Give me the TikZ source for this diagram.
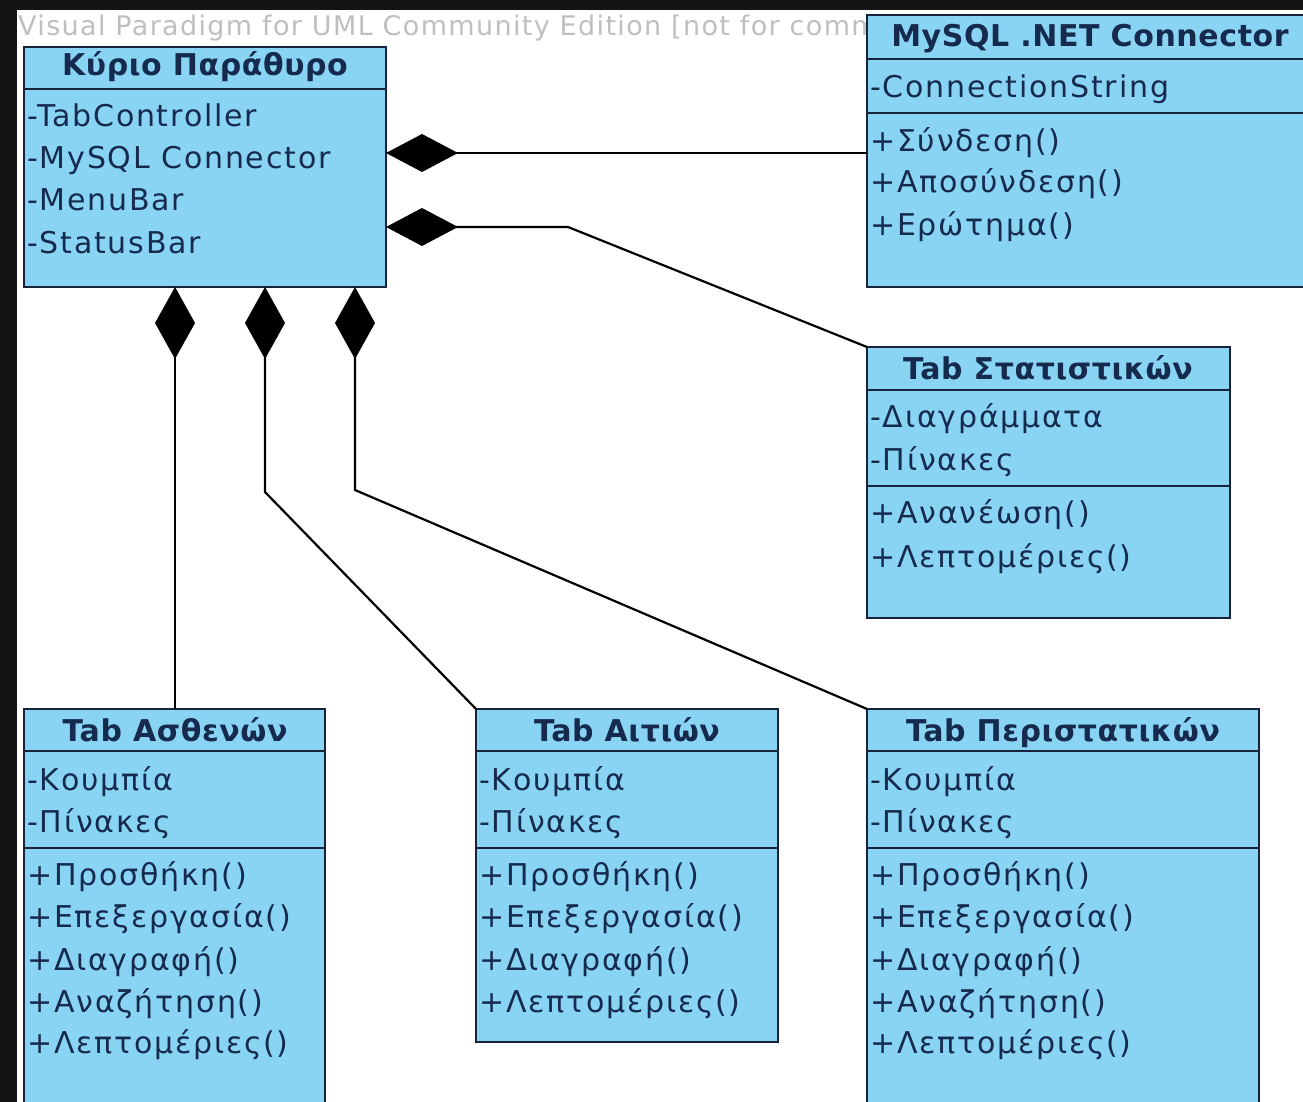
\documentclass[tikz,border=0pt]{standalone}
\usepackage{fontspec}
\setmainfont{DejaVu Sans}
\newfontfamily\memfont[LetterSpace=6]{DejaVu Sans}
\newfontfamily\ttlfont[LetterSpace=2]{DejaVu Sans Bold}
\newfontfamily\wmfont[LetterSpace=5]{DejaVu Sans}
\usetikzlibrary{arrows.meta}
\definecolor{cfill}{RGB}{137,212,243}
\definecolor{ctext}{RGB}{22,42,78}
\definecolor{cline}{RGB}{24,34,60}
\begin{document}
\begin{tikzpicture}[x=1pt,y=-1pt,
 cls/.style={draw=cline, line width=2pt, fill=cfill, anchor=north west, inner sep=0pt, outer sep=0pt},
 ttl/.style={inner sep=0pt, anchor=base, text=ctext, font=\fontsize{30}{30}\ttlfont},
 mem/.style={inner sep=0pt, anchor=base west, text=ctext, font=\fontsize{30}{30}\memfont},
 sep/.style={draw=cline, line width=2pt},
 comp/.style={draw=black, line width=2.2pt, -{Diamond[length=72pt,width=38pt]}},
 compv/.style={draw=black, line width=2.2pt, -{Diamond[length=72pt,width=40pt]}}]
\useasboundingbox (0,0) rectangle (1303,1102);
\clip (0,0) rectangle (1303,1102);
\fill[black!92] (0,0) rectangle (1303,1102);
\fill[white] (17,10) rectangle (1303,1102);

% watermark (partly covered by the MySQL box)
\node[anchor=base west, inner sep=0pt, text=black!45, opacity=0.55, font=\fontsize{27}{27}\wmfont] (wm) at (18,36) {Visual Paradigm for UML Community Edition [not for commercial use]};

% main window
\node[cls, minimum width=362pt, minimum height=240pt] (main) at (24,47) {};
\draw[sep] (main.west |- 0,89) -- (main.east |- 0,89);
\node[ttl] (mainT) at (205,76) {Κύριο Παράθυρο};
\node[mem] (mainA1) at (27,127) {-TabController};
\node[mem] (mainA2) at (27,169) {-MySQL Connector};
\node[mem] (mainA3) at (27,211) {-MenuBar};
\node[mem] (mainA4) at (27,253) {-StatusBar};

% MySQL .NET Connector
\node[cls, minimum width=446pt, minimum height=272pt] (mysql) at (867,15) {};
\draw[sep] (mysql.west |- 0,59) -- (mysql.east |- 0,59);
\draw[sep] (mysql.west |- 0,113) -- (mysql.east |- 0,113);
\node[ttl] (mysqlT) at (1090,47) {MySQL .NET Connector};
\node[mem] (mysqlA1) at (870,98) {-ConnectionString};
\node[mem] (mysqlO1) at (870,152) {+Σύνδεση()};
\node[mem] (mysqlO2) at (870,193) {+Αποσύνδεση()};
\node[mem] (mysqlO3) at (870,235) {+Ερώτημα()};

% Tab Statistikon
\node[cls, minimum width=363pt, minimum height=271pt] (stats) at (867,347) {};
\draw[sep] (stats.west |- 0,390) -- (stats.east |- 0,390);
\draw[sep] (stats.west |- 0,486) -- (stats.east |- 0,486);
\node[ttl] (statsT) at (1048,379) {Tab Στατιστικών};
\node[mem] (statsA1) at (870,427) {-Διαγράμματα};
\node[mem] (statsA2) at (870,470) {-Πίνακες};
\node[mem] (statsO1) at (870,523) {+Ανανέωση()};
\node[mem] (statsO2) at (870,567) {+Λεπτομέριες()};

% Tab Asthenon
\node[cls, minimum width=301pt, minimum height=420pt] (asth) at (24,709) {};
\draw[sep] (asth.west |- 0,751) -- (asth.east |- 0,751);
\draw[sep] (asth.west |- 0,848) -- (asth.east |- 0,848);
\node[ttl] (asthT) at (175,741) {Tab Ασθενών};
\node[mem] (asthA1) at (27,790) {-Κουμπία};
\node[mem] (asthA2) at (27,832) {-Πίνακες};
\node[mem] (asthO1) at (27,885) {+Προσθήκη()};
\node[mem] (asthO2) at (27,927) {+Επεξεργασία()};
\node[mem] (asthO3) at (27,970) {+Διαγραφή()};
\node[mem] (asthO4) at (27,1012) {+Αναζήτηση()};
\node[mem] (asthO5) at (27,1053) {+Λεπτομέριες()};

% Tab Aition
\node[cls, minimum width=302pt, minimum height=333pt] (aitia) at (476,709) {};
\draw[sep] (aitia.west |- 0,751) -- (aitia.east |- 0,751);
\draw[sep] (aitia.west |- 0,848) -- (aitia.east |- 0,848);
\node[ttl] (aitiaT) at (627,741) {Tab Αιτιών};
\node[mem] (aitiaA1) at (479,790) {-Κουμπία};
\node[mem] (aitiaA2) at (479,832) {-Πίνακες};
\node[mem] (aitiaO1) at (479,885) {+Προσθήκη()};
\node[mem] (aitiaO2) at (479,927) {+Επεξεργασία()};
\node[mem] (aitiaO3) at (479,970) {+Διαγραφή()};
\node[mem] (aitiaO4) at (479,1012) {+Λεπτομέριες()};

% Tab Peristatikon
\node[cls, minimum width=392pt, minimum height=420pt] (perist) at (867,709) {};
\draw[sep] (perist.west |- 0,751) -- (perist.east |- 0,751);
\draw[sep] (perist.west |- 0,848) -- (perist.east |- 0,848);
\node[ttl] (peristT) at (1063,741) {Tab Περιστατικών};
\node[mem] (peristA1) at (870,790) {-Κουμπία};
\node[mem] (peristA2) at (870,832) {-Πίνακες};
\node[mem] (peristO1) at (870,885) {+Προσθήκη()};
\node[mem] (peristO2) at (870,927) {+Επεξεργασία()};
\node[mem] (peristO3) at (870,970) {+Διαγραφή()};
\node[mem] (peristO4) at (870,1012) {+Αναζήτηση()};
\node[mem] (peristO5) at (870,1053) {+Λεπτομέριες()};

% connectors (composition)
\draw[comp] (mysql.west |- 0,153) -- (main.east |- 0,153);
\draw[comp] (stats.north west) -- (568,227) -- (main.east |- 0,227);
\draw[compv] (asth.north -| 175,0) -- (main.south -| 175,0);
\draw[compv] (aitia.north west) -- (265,492) -- (main.south -| 265,0);
\draw[compv] (perist.north west) -- (355,490) -- (main.south -| 355,0);
\end{tikzpicture}
\end{document}
